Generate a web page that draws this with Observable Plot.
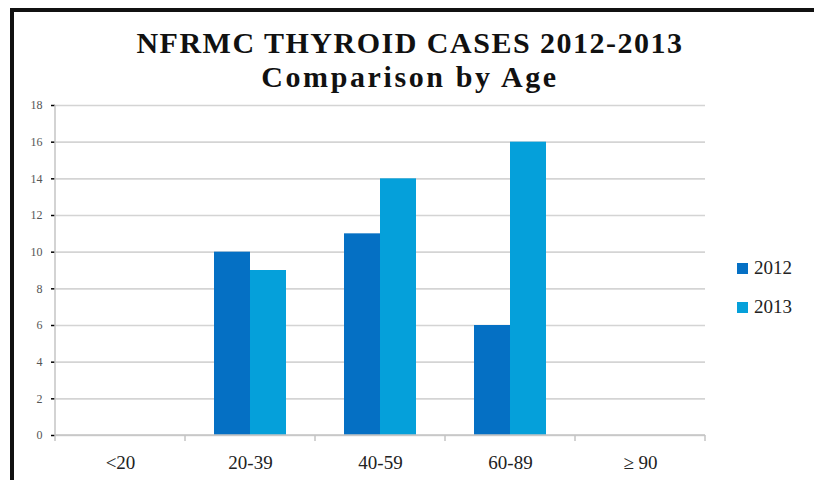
<!DOCTYPE html>
<html>
<head>
<meta charset="utf-8">
<script src="https://cdn.jsdelivr.net/npm/d3@7"></script>
<script src="https://cdn.jsdelivr.net/npm/@observablehq/plot@0.6"></script>
<style>
  html, body { margin: 0; padding: 0; background: #fff; }
  #wrap { position: relative; width: 814px; height: 480px; overflow: hidden; background: #fff; }
  #frame { position: absolute; left: 10px; top: 8px; width: 900px; height: 600px; border-left: 4px solid #111; border-top: 4px solid #111; box-sizing: border-box; }
  .title { position: absolute; left: 0; width: 820px; text-align: center; font-family: "Liberation Serif", serif; font-weight: bold; color: #111; font-size: 30px; line-height: 33.5px; }
  #t1 { top: 26px; letter-spacing: 1.5px; }
  #t2 { top: 59.5px; letter-spacing: 2.6px; }
  #chart { position: absolute; left: 0; top: 0; }
  #legend { position: absolute; left: 737px; top: 258px; font-family: "Liberation Serif", serif; font-size: 19px; color: #222; }
  .item { display: flex; align-items: center; height: 20px; margin-bottom: 19px; }
  .sw { width: 11px; height: 11px; margin-right: 6px; }
</style>
</head>
<body>
<div id="wrap">
  <div id="frame"></div>
  <div id="chart"></div>
  <div class="title" id="t1">NFRMC THYROID CASES 2012-2013</div>
  <div class="title" id="t2">Comparison by Age</div>
  <div id="legend"></div>
</div>
<script>
const categories = ["<20", "20-39", "40-59", "60-89", "\u2265 90"];
const years = ["2012", "2013"];
const values2012 = [0, 10, 11, 6, 0];
const values2013 = [0, 9, 14, 16, 0];
const colors = ["#0570C4", "#05A0DA"];
const yTicks = [0, 2, 4, 6, 8, 10, 12, 14, 16, 18];

const data = [];
categories.forEach((c, i) => {
  data.push({category: c, year: years[0], value: values2012[i]});
  data.push({category: c, year: years[1], value: values2013[i]});
});

const chart = Plot.plot({
  width: 814,
  height: 480,
  marginLeft: 54,
  marginRight: 109,
  marginTop: 105,
  marginBottom: 45,
  style: {fontFamily: "Liberation Serif, serif", background: "transparent", overflow: "visible"},
  fx: {domain: categories, padding: 0, label: null, tickSize: 0, tickPadding: 20, axis: "bottom"},
  x: {domain: years, paddingInner: 0, paddingOuter: 0.76, axis: null},
  y: {domain: [0, 18], ticks: yTicks, tickSize: 4, tickPadding: 9, label: null},
  color: {domain: years, range: colors},
  marks: [
    Plot.gridY(yTicks, {stroke: "#d4d4d4", strokeOpacity: 1, strokeWidth: 1.6}),
    Plot.barY(data, {fx: "category", x: "year", y: "value", fill: "year", inset: 0})
  ]
});

const svg = d3.select(chart);
svg.selectAll("[aria-label='fx-axis tick label']").attr("font-size", 19).attr("fill", "#222");
svg.selectAll("[aria-label='y-axis tick label']").attr("font-size", 12).attr("fill", "#555");
svg.selectAll("[aria-label='y-axis tick']").attr("stroke", "#c8c8c8").attr("stroke-width", 1.5);

// axis lines and category boundary ticks, positioned from Plot's scales
const fx = chart.scale("fx");
const y = chart.scale("y");
const y0 = y.apply(0), yTop = y.apply(18);
const bounds = categories.map(c => fx.apply(c));
bounds.push(fx.apply(categories[categories.length - 1]) + fx.step);
const g = svg.append("g").attr("stroke", "#c4c4c4").attr("stroke-width", 1.5);
g.append("line").attr("x1", bounds[0]).attr("x2", bounds[bounds.length - 1]).attr("y1", y0).attr("y2", y0);
g.append("line").attr("x1", bounds[0]).attr("x2", bounds[0]).attr("y1", yTop).attr("y2", y0 + 6);
bounds.slice(1).forEach(b => {
  g.append("line").attr("x1", b).attr("x2", b).attr("y1", y0).attr("y2", y0 + 6);
});

document.getElementById("chart").appendChild(chart);

const legend = document.getElementById("legend");
years.forEach((yr, i) => {
  const item = document.createElement("div");
  item.className = "item";
  item.innerHTML = `<div class="sw" style="background:${colors[i]}"></div><span>${yr}</span>`;
  legend.appendChild(item);
});
</script>
</body>
</html>
